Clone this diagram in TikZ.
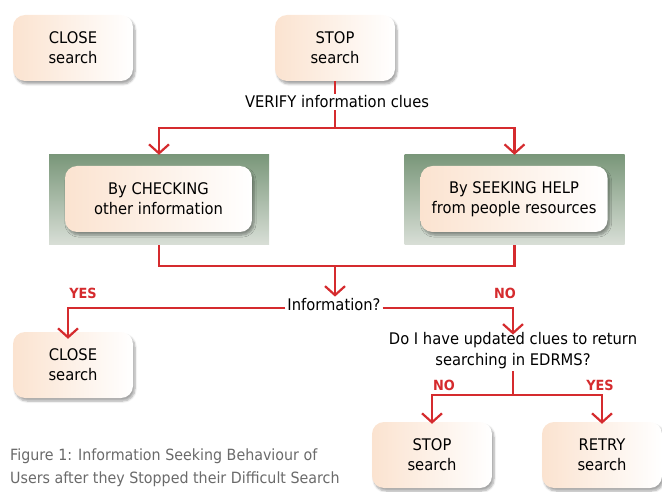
\documentclass[tikz,border=0pt]{standalone}
\usepackage{fontspec}
\setmainfont{DejaVu Sans}[FakeStretch=0.92]
\usetikzlibrary{arrows.meta,shadows.blur,calc}
\definecolor{rline}{HTML}{D52B2E}
\definecolor{peach}{HTML}{FBE3D0}
\definecolor{gtop}{HTML}{7A977A}
\definecolor{gbot}{HTML}{D9DFD7}
\definecolor{capgray}{HTML}{6A6A6A}
\tikzset{
  box/.style={rounded corners=12pt, minimum width=120pt, minimum height=66pt,
    left color=peach, right color=white, align=center, font=\fontsize{16}{20}\selectfont,
    blur shadow={shadow xshift=2pt, shadow yshift=-3pt, shadow blur steps=6, shadow opacity=35}},
  widebox/.style={box, minimum width=187pt},
  panel/.style={minimum width=220pt, minimum height=90pt, top color=gtop, bottom color=gbot, inner sep=0pt},
  txt/.style={align=center, font=\fontsize{16}{21}\selectfont, inner sep=2pt},
  lab/.style={text=rline, font=\bfseries\fontsize{14}{18}\selectfont, inner sep=0pt},
  conn/.style={draw=rline, line width=2.2pt},
  arr/.style={conn, -{Straight Barb[length=9pt,width=20pt,line width=2.2pt]}}
}
\begin{document}
\begin{tikzpicture}[x=1pt,y=-1pt]
\useasboundingbox (0,0) rectangle (662,492);
% top
\node[box] (closeA) at (73,48) {CLOSE\\search};
\node[box] (stopA) at (335,48) {STOP\\search};
\node[txt] (verify) at (337,102) {VERIFY information clues};
\coordinate (split) at (335,128);
% panels
\node[panel] (panelL) at (159,200) {};
\node[panel] (panelR) at (514.5,200) {};
\node[widebox] (innerL) at (158.5,199) {By CHECKING\\other information};
\node[widebox] (innerR) at (514,199) {By SEEKING HELP\\from people resources};
\coordinate (merge) at (335,266);
\node[txt] (info) at (334,305) {Information?};
\node[box] (closeB) at (73,365) {CLOSE\\search};
\node[txt] (quest) at (513,351) {Do I have updated clues to return\\searching in EDRMS?};
\coordinate (split2) at (513,395);
\node[box] (stopB) at (432,455) {STOP\\search};
\node[box] (retry) at (602,455) {RETRY\\search};
% labels
\node[lab] (yes1) at (83,293) {YES};
\node[lab] (no1) at (505,293) {NO};
\node[lab] (no2) at (444,385) {NO};
\node[lab] (yes2) at (600,385) {YES};
% caption
\node[anchor=north west, align=left, text=capgray, font=\fontsize{15.5}{23}\selectfont, inner sep=0pt] (cap) at (10,449)
  {Figure 1: Information Seeking Behaviour of\\Users after they Stopped their Difficult Search};
% connectors
\draw[conn] (stopA.south) -- (stopA.south |- verify.north);
\draw[conn] (stopA.south |- verify.south) -- (split);
\draw[arr] (split) -| (panelL.north);
\draw[arr] (split) -| (panelR.north);
\draw[conn] (panelL.south) |- (merge);
\draw[conn] (panelR.south) |- (merge);
\draw[arr] (merge) -- (merge |- info.north);
\draw[arr] ([yshift=-3pt]info.west) -| ([xshift=-5pt,yshift=-7pt]closeB.north);
\draw[arr] ([yshift=-3pt]info.east) -| ([yshift=-4pt]quest.north);
\draw[conn] (quest.south) -- (split2);
\draw[arr] (split2) -| ([yshift=-2pt]stopB.north);
\draw[arr] (split2) -| ([yshift=-2pt]retry.north);
\end{tikzpicture}
\end{document}
